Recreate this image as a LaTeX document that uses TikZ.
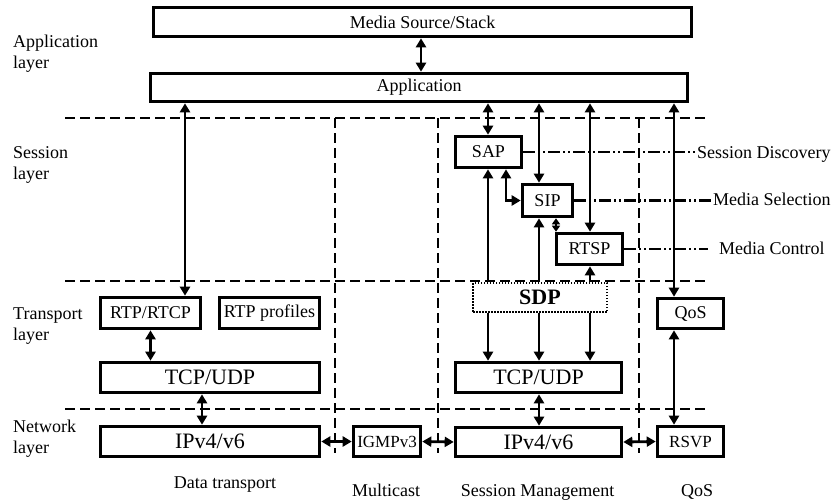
\documentclass[tikz,border=0pt]{standalone}
\usepackage{fontspec}
\setmainfont{Liberation Serif}
\usetikzlibrary{arrows.meta}
\begin{document}
\begin{tikzpicture}[x=1pt,y=-1pt,
  >={Triangle[length=9pt,width=10pt]},
  txt/.style={inner sep=0pt, font=\fontsize{18}{21}\selectfont},
  box/.style={draw, line width=3.6pt, inner sep=0pt, fill=white,
              font=\fontsize{18}{21}\selectfont},
  smallbox/.style={box, font=\fontsize{17}{20}\selectfont},
  bigbox/.style={box, font=\fontsize{22}{26}\selectfont},
  dotbox/.style={draw, line width=2.2pt, dash pattern=on 1.5pt off 1.5pt,
                 inner sep=0pt, fill=white, font=\fontsize{22}{26}\selectfont\bfseries},
  link/.style={line width=2.8pt},
  layerline/.style={line width=2.2pt, dash pattern=on 10pt off 5pt},
  guide/.style={line width=2.2pt, dash pattern=on 12pt off 3pt on 2pt off 3pt on 2pt off 3pt}
]
\useasboundingbox (0,0) rectangle (835,501);

% layer separators and column separators
\draw[layerline] (65,118) -- (707,118);
\draw[layerline] (65,281) -- (707,281);
\draw[layerline] (65,409) -- (707,409);
\draw[layerline] (335,118) -- (335,453);
\draw[layerline] (438,118) -- (438,453);
\draw[layerline] (639,118) -- (639,453);

% layer names
\node[txt, align=left, anchor=north west] (lapp) at (13,34.7) {Application\\layer};
\node[txt, align=left, anchor=north west] (lses) at (13,146.7) {Session\\layer};
\node[txt, align=left, anchor=north west] (ltra) at (13,308) {Transport\\layer};
\node[txt, align=left, anchor=north west] (lnet) at (13,419.7) {Network\\layer};

% protocol blocks
\node[box, minimum width=538pt, minimum height=29pt] (media) at (422.5,22) {Media Source/Stack};
\node[box, minimum width=537pt, minimum height=28pt] (app) at (419,87.5) {Application};

\node[box, minimum width=66pt, minimum height=31pt] (sap) at (488.5,152) {SAP};
\node[box, minimum width=50pt, minimum height=32pt] (sip) at (547.5,200.5) {SIP};
\node[box, minimum width=66pt, minimum height=31pt] (rtsp) at (589.5,249) {RTSP};
\node[dotbox, minimum width=134pt, minimum height=29pt] (sdp) at (540,297.5) {SDP};
\node[bigbox, minimum width=166pt, minimum height=30pt] (tcpR) at (538.5,377.5) {TCP/UDP};
\node[bigbox, minimum width=166pt, minimum height=29pt] (ipR) at (538.5,442) {IPv4/v6};

\node[box, minimum width=66pt, minimum height=30pt] (qos) at (690.5,313.5) {QoS};
\node[smallbox, minimum width=66pt, minimum height=30pt] (rsvp) at (690.5,441.5) {RSVP};
\node[smallbox, minimum width=67pt, minimum height=30pt] (igmp) at (387,441.5) {IGMPv3};

\node[box, minimum width=100pt, minimum height=31pt] (rtp) at (150.5,313) {RTP/RTCP};
\node[box, minimum width=100pt, minimum height=31pt] (prof) at (269.5,313) {RTP profiles};
\node[bigbox, minimum width=219pt, minimum height=30pt] (tcpL) at (210,377.5) {TCP/UDP};
\node[bigbox, minimum width=219pt, minimum height=30pt] (ipL) at (210,441.5) {IPv4/v6};

% column positions of the vertical connectors
\coordinate (cM) at (421,0);
\coordinate (cL) at (185,0);
\coordinate (cT) at (202,0);
\coordinate (cA) at (488,0);
\coordinate (cB) at (539,0);
\coordinate (cC) at (590,0);
\coordinate (cE) at (506,0);
\coordinate (cF) at (556,0);
\coordinate (cQ) at (674,0);

% connectors
\draw[link,<->] (media.south -| cM) -- (app.north -| cM);
\draw[link,<->] (app.south -| cL) -- (rtp.north -| cL);
\draw[link,<->] (rtp.south) -- (rtp.south |- tcpL.north);
\draw[link,<->] (tcpL.south -| cT) -- (ipL.north -| cT);
\draw[link,<->] (ipL.east) -- (igmp.west);
\draw[link,<->] (igmp.east) -- (ipR.west);
\draw[link,<->] (ipR.east) -- (rsvp.west);

\draw[link,<->] (app.south -| cA) -- (sap.north -| cA);
\draw[link,<->] (app.south -| cB) -- (sip.north -| cB);
\draw[link,<->] (app.south -| cC) -- (rtsp.north -| cC);
\draw[link,<->] (app.south -| cQ) -- (qos.north -| cQ);
\draw[link,<->] (qos.south -| cQ) -- (rsvp.north -| cQ);

\draw[link,<->] (sap.south -| cE) |- (sip.west);
\draw[link,{Triangle[length=6pt,width=8pt]}-{Triangle[length=6pt,width=8pt]}]
  (sip.south -| cF) -- (rtsp.north -| cF);

\draw[link,->] (sdp.north -| cA) -- (sap.south -| cA);
\draw[link,->] (sdp.north -| cB) -- (sip.south -| cB);
\draw[link,->] (sdp.north -| cC) -- (rtsp.south -| cC);
\draw[link,->] (sdp.south -| cA) -- (tcpR.north -| cA);
\draw[link,->] (sdp.south -| cB) -- (tcpR.north -| cB);
\draw[link,->] (sdp.south -| cC) -- (tcpR.north -| cC);
\draw[link,<->] (tcpR.south -| cB) -- (ipR.north -| cB);

% functions of the session protocols
\node[txt, anchor=base west] (sdisc) at (697,158) {Session Discovery};
\node[txt, anchor=base west] (msel) at (713,205) {Media Selection};
\node[txt, anchor=base west] (mctl) at (719,254) {Media Control};
\draw[guide] (sap.east) -- (sap.east -| sdisc.west);
\draw[guide] (sip.east) -- ([xshift=-2pt]sip.east -| msel.west);
\draw[guide] (rtsp.east) -- ([xshift=-11pt]rtsp.east -| mctl.west);

% column captions
\node[txt, anchor=base] (cdata) at (225,488) {Data transport};
\node[txt, anchor=base] (cmult) at (386,496) {Multicast};
\node[txt, anchor=base] (csess) at (537.5,496) {Session Management};
\node[txt, anchor=base] (cqos) at (697,496) {QoS};
\end{tikzpicture}
\end{document}
